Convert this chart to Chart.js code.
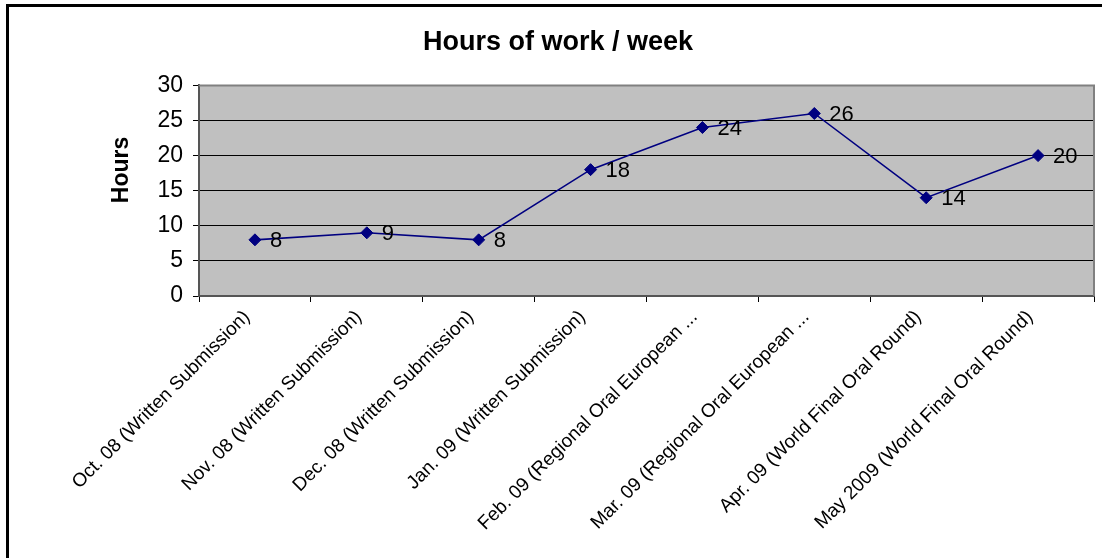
<!DOCTYPE html>
<html>
<head>
<meta charset="utf-8">
<script src="https://cdn.jsdelivr.net/npm/chart.js@4/dist/chart.umd.min.js"></script>
<style>
  html, body { margin: 0; padding: 0; background: #fff; }
  #wrap { width: 1102px; height: 558px; position: relative; }
</style>
</head>
<body>
<div id="wrap"><canvas id="c"></canvas></div>
<script>
const categories = [
  "Oct. 08 (Written Submission)",
  "Nov. 08 (Written Submission)",
  "Dec. 08 (Written Submission)",
  "Jan. 09 (Written Submission)",
  "Feb. 09 (Regional Oral European ...",
  "Mar. 09 (Regional Oral European ...",
  "Apr. 09 (World Final Oral Round)",
  "May 2009 (World Final Oral Round)"
];
const hours = [8, 9, 8, 18, 24, 26, 14, 20];
const yTicks = [0, 5, 10, 15, 20, 25, 30];
const chartTitle = "Hours of work / week";
const yTitle = "Hours";

const FONT = "'Liberation Sans', Arial, sans-serif";

const decor = {
  id: 'decor',
  beforeDraw(chart) {
    const ctx = chart.ctx;
    ctx.save();
    ctx.fillStyle = '#fff';
    ctx.fillRect(0, 0, chart.width, chart.height);
    ctx.strokeStyle = '#000';
    ctx.lineWidth = 3;
    ctx.beginPath();
    ctx.moveTo(7.5, chart.height + 5);
    ctx.lineTo(7.5, 5.5);
    ctx.lineTo(chart.width + 5, 5.5);
    ctx.stroke();
    const a = chart.chartArea;
    ctx.fillStyle = '#C0C0C0';
    ctx.fillRect(a.left, a.top, a.right - a.left, a.bottom - a.top);
    ctx.restore();
  },
  beforeDatasetsDraw(chart) {
    const ctx = chart.ctx;
    const a = chart.chartArea;
    ctx.save();
    ctx.strokeStyle = '#808080';
    ctx.lineWidth = 2;
    ctx.beginPath();
    ctx.moveTo(a.left, a.top);
    ctx.lineTo(a.right, a.top);
    ctx.lineTo(a.right, a.bottom);
    ctx.stroke();
    ctx.restore();
  },
  afterDatasetsDraw(chart) {
    const ctx = chart.ctx;
    ctx.save();
    ctx.fillStyle = '#000';
    ctx.font = '22px ' + FONT;
    ctx.textAlign = 'left';
    ctx.textBaseline = 'middle';
    const meta = chart.getDatasetMeta(0);
    meta.data.forEach((pt, i) => {
      ctx.fillText(String(chart.data.datasets[0].data[i]), pt.x + 15, pt.y + 1);
    });
    // y axis title
    ctx.font = 'bold 23px ' + FONT;
    ctx.textAlign = 'center';
    ctx.textBaseline = 'middle';
    ctx.translate(122, 170);
    ctx.rotate(-Math.PI / 2);
    ctx.fillText(yTitle, 0, 0);
    ctx.restore();
  }
};

new Chart(document.getElementById('c'), {
  type: 'line',
  data: {
    labels: categories,
    datasets: [{
      data: hours,
      borderColor: '#000080',
      backgroundColor: '#000080',
      borderWidth: 1.6,
      pointStyle: 'rectRot',
      pointRadius: 6,
      pointBorderWidth: 1,
      pointBorderColor: '#000080',
      pointBackgroundColor: '#000080',
      tension: 0,
      fill: false
    }]
  },
  options: {
    responsive: true,
    maintainAspectRatio: false,
    devicePixelRatio: 1,
    animation: false,
    layout: { padding: { left: 22, right: 8, top: 0, bottom: 0 } },
    plugins: {
      legend: { display: false },
      tooltip: { enabled: false },
      title: {
        display: true,
        text: chartTitle,
        color: '#000',
        font: { family: FONT, size: 27, weight: 'bold', lineHeight: 1.2 },
        padding: { top: 26, bottom: 27 }
      }
    },
    scales: {
      x: {
        offset: true,
        grid: {
          offset: true,
          drawOnChartArea: false,
          drawTicks: true,
          tickLength: 6,
          tickColor: '#000',
          color: '#000'
        },
        border: { color: '#555', width: 2 },
        ticks: {
          autoSkip: false,
          minRotation: 45,
          maxRotation: 45,
          padding: 4,
          labelOffset: -8,
          color: '#000',
          font: { family: FONT, size: 19 }
        },
        afterFit(scale) { scale.height = 262; }
      },
      y: {
        min: 0,
        max: 30,
        afterBuildTicks(scale) { scale.ticks = yTicks.map(v => ({ value: v })); },
        grid: {
          color: '#000',
          lineWidth: 1,
          tickLength: 6,
          tickColor: '#000',
          drawTicks: true
        },
        border: { color: '#555', width: 2 },
        ticks: {
          padding: 10,
          color: '#000',
          font: { family: FONT, size: 23 }
        },
        afterFit(scale) { scale.width = 177; }
      }
    }
  },
  plugins: [decor]
});
</script>
</body>
</html>
